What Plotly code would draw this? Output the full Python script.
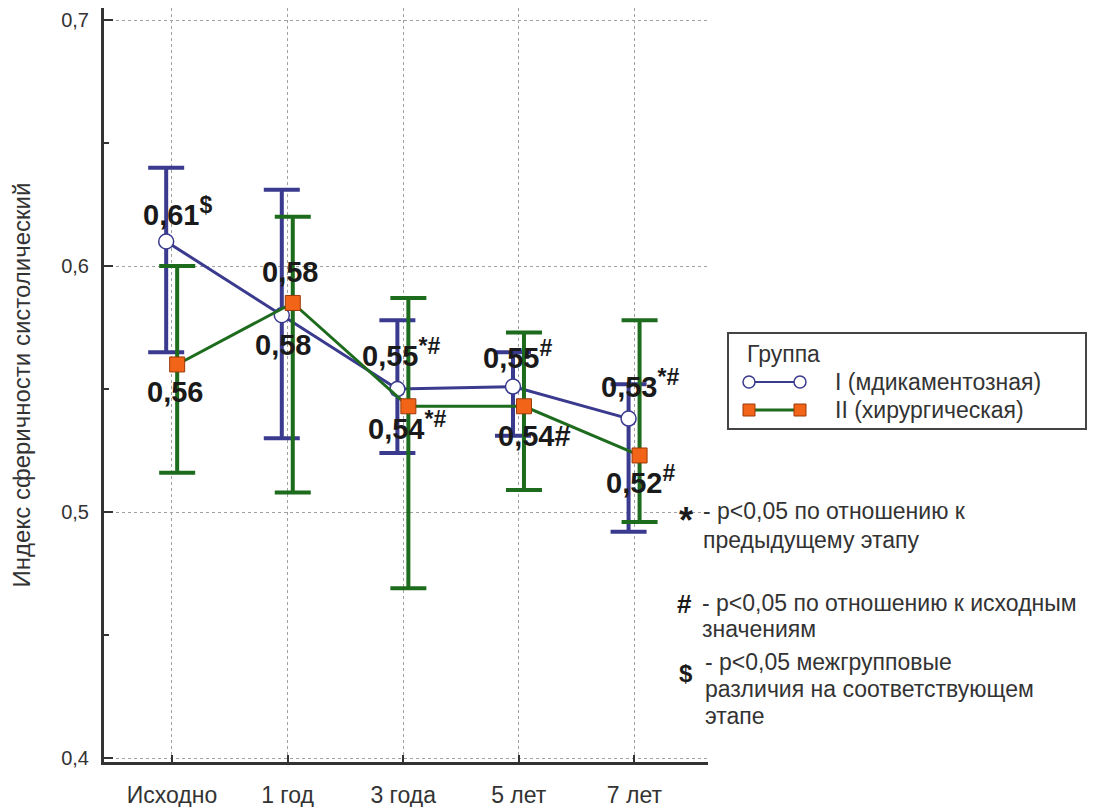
import math
import plotly.graph_objects as go

# --- data -------------------------------------------------------------
CATEGORIES = ["Исходно", "1 год", "3 года", "5 лет", "7 лет"]

GROUP_I_NAME = "I (мдикаментозная)"
GROUP_I_MEAN = [0.610, 0.580, 0.550, 0.551, 0.538]
GROUP_I_UPPER = [0.640, 0.631, 0.578, 0.565, 0.552]
GROUP_I_LOWER = [0.565, 0.530, 0.524, 0.531, 0.492]
GROUP_I_SIG = ["$", "", "*#", "#", "*#"]

GROUP_II_NAME = "II (хирургическая)"
GROUP_II_MEAN = [0.560, 0.585, 0.543, 0.543, 0.523]
GROUP_II_UPPER = [0.600, 0.620, 0.587, 0.573, 0.578]
GROUP_II_LOWER = [0.516, 0.508, 0.469, 0.509, 0.496]
GROUP_II_SIG = ["", "", "*#", "#", "#"]

Y_TICKS = [0.4, 0.5, 0.6, 0.7]
Y_TICK_TEXT = ["0,4", "0,5", "0,6", "0,7"]
Y_TITLE = "Индекс сферичности систолический"

# --- style ------------------------------------------------------------
W, H = 1093, 807
L, R, T, B = 104, 708, 8, 762          # plot area in pixels
FONT = "Liberation Sans, Arial, sans-serif"
TXT = "#333333"
NAVY = "#3a3a8e"
GREEN = "#1d6b1d"
ORANGE = "#f26418"

OFF_I, OFF_II = -0.05, 0.045
# label placement: (x shift of left edge, y shift of text centre) in px
SHIFT_I = [(-25, 30), (-29, -30), (-37, 37), (-32, 32), (-30, 35)]
SHIFT_II = [(-32, -28), (-33, 31), (-42, -19), (-28, -30), (-36, -24)]
RAISED_II = [True, True, True, False, True]


def px(x):
    return (x - L) / (R - L)


def py(y):
    return (B - y) / (B - T)


def fmt(v):
    t = math.floor(v * 100 + 1e-6) / 100
    return f"{t:.2f}".replace(".", ",")


def series(name, mean, upper, lower, offset, color, marker):
    return go.Scatter(
        x=[i + offset for i in range(len(mean))],
        y=mean,
        name=name,
        mode="lines+markers",
        line=dict(color=color, width=3),
        marker=marker,
        error_y=dict(
            type="data",
            symmetric=False,
            array=[u - m for u, m in zip(upper, mean)],
            arrayminus=[m - lo for m, lo in zip(mean, lower)],
            color=color,
            thickness=4,
            width=18,
        ),
        showlegend=False,
        cliponaxis=False,
    )


fig = go.Figure()
fig.add_trace(series(GROUP_I_NAME, GROUP_I_MEAN, GROUP_I_UPPER, GROUP_I_LOWER, OFF_I, NAVY,
                     dict(symbol="circle", size=15, color="white",
                          line=dict(color=NAVY, width=1.5))))
fig.add_trace(series(GROUP_II_NAME, GROUP_II_MEAN, GROUP_II_UPPER, GROUP_II_LOWER, OFF_II, GREEN,
                     dict(symbol="square", size=15, color=ORANGE,
                          line=dict(color="#9a3a08", width=1))))

annotations = []


def value_labels(mean, sig, offset, shifts, raised):
    for i, (v, s) in enumerate(zip(mean, sig)):
        mark = ""
        if s:
            mark = (f"<sup><b><span style='font-size:23px'>{s}</span></b></sup>"
                    if raised[i] else f"<b>{s}</b>")
        annotations.append(dict(
            x=i + offset, y=v, xref="x", yref="y",
            text=f"<b>{fmt(v)}</b>{mark}",
            showarrow=False, xanchor="left", yanchor="middle",
            xshift=shifts[i][0], yshift=shifts[i][1],
            font=dict(family=FONT, size=29, color="#1a1a1a"),
        ))


value_labels(GROUP_I_MEAN, GROUP_I_SIG, OFF_I, SHIFT_I, [True] * 5)
value_labels(GROUP_II_MEAN, GROUP_II_SIG, OFF_II, SHIFT_II, RAISED_II)


def text_at(x, y, text, size=23, bold=False, anchor="left", color=TXT):
    annotations.append(dict(
        x=px(x), y=py(y), xref="paper", yref="paper",
        text=f"<b>{text}</b>" if bold else text,
        showarrow=False, xanchor=anchor, yanchor="middle",
        font=dict(family=FONT, size=size, color=color),
    ))


# significance notes
text_at(686, 520, "*", size=36, bold=True, anchor="center", color="#1a1a1a")
text_at(701, 511, "- p<0,05 по отношению к")
text_at(701, 540, "предыдущему этапу")
text_at(684, 604, "#", size=26, bold=True, anchor="center", color="#1a1a1a")
text_at(700, 603, "- p<0,05 по отношению к исходным")
text_at(700, 629, "значениям")
text_at(686, 673, "$", size=24, bold=True, anchor="center", color="#1a1a1a")
text_at(703, 662, "- p<0,05 межгрупповые")
text_at(703, 689, "различия на соответствующем")
text_at(703, 716, "этапе")

# legend box
shapes = [
    dict(type="rect", xref="paper", yref="paper",
         x0=px(728), x1=px(1086), y0=py(429), y1=py(333),
         line=dict(color="#444444", width=2), fillcolor="white", layer="below"),
    dict(type="line", xref="paper", yref="paper",
         x0=px(749), x1=px(800), y0=py(382), y1=py(382),
         line=dict(color=NAVY, width=2)),
    dict(type="line", xref="paper", yref="paper",
         x0=px(749), x1=px(800), y0=py(410), y1=py(410),
         line=dict(color=GREEN, width=3)),
]
for cx in (749, 800):
    shapes.append(dict(type="circle", xref="paper", yref="paper",
                       x0=px(cx - 6), x1=px(cx + 6), y0=py(388), y1=py(376),
                       line=dict(color=NAVY, width=1.5), fillcolor="white"))
    shapes.append(dict(type="rect", xref="paper", yref="paper",
                       x0=px(cx - 6), x1=px(cx + 6), y0=py(416), y1=py(404),
                       line=dict(color="#9a3a08", width=1), fillcolor=ORANGE))
text_at(745, 354, "Группа")
text_at(833, 382, GROUP_I_NAME)
text_at(833, 410, GROUP_II_NAME)

grid = dict(showgrid=True, gridcolor="#a0a0a0", gridwidth=1, griddash="dot")

fig.update_layout(
    width=W, height=H,
    margin=dict(l=L, r=W - R, t=T, b=H - B, autoexpand=False),
    paper_bgcolor="white", plot_bgcolor="white",
    font=dict(family=FONT, color=TXT, size=23),
    showlegend=False,
    annotations=annotations,
    shapes=shapes,
    xaxis=dict(
        range=[-0.588, 4.637],
        tickmode="array", tickvals=list(range(len(CATEGORIES))), ticktext=CATEGORIES,
        ticks="inside", ticklen=7, tickwidth=2, tickcolor="#333333",
        showline=True, linecolor="#333333", linewidth=3,
        tickfont=dict(family=FONT, size=23, color=TXT),
        ticklabelstandoff=10, automargin=False,
        zeroline=False, **grid,
    ),
    yaxis=dict(
        range=[0.3984, 0.7049],
        tickmode="array", tickvals=Y_TICKS, ticktext=Y_TICK_TEXT,
        ticks="inside", ticklen=9, tickwidth=2, tickcolor="#333333",
        minor=dict(dtick=0.05, tick0=0.4, ticks="inside", ticklen=5,
                   tickwidth=2, tickcolor="#333333", showgrid=False),
        showline=True, linecolor="#333333", linewidth=3,
        tickfont=dict(family=FONT, size=20, color=TXT),
        ticklabelstandoff=8, automargin=False,
        title=dict(text=Y_TITLE, font=dict(family=FONT, size=24, color=TXT), standoff=24),
        zeroline=False, **grid,
    ),
)

fig.write_html("out.html")
